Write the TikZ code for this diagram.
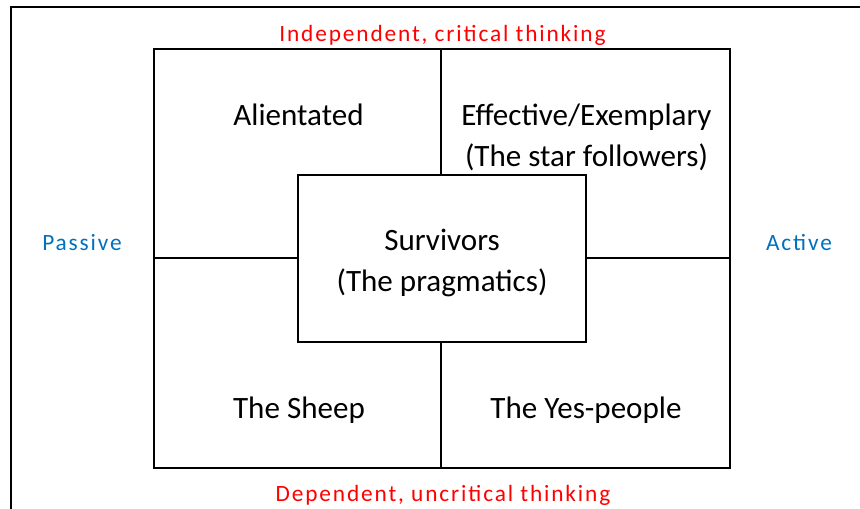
\documentclass[tikz,border=0pt]{standalone}
\usepackage{fontspec}
\setmainfont{Carlito}
\newfontfamily\spacedfont[LetterSpace=8]{Carlito}
\definecolor{axisred}{RGB}{255,0,0}
\definecolor{axisblue}{RGB}{0,112,192}
\tikzset{
  boxline/.style={draw=black, line width=1.6pt},
  celltext/.style={anchor=base, inner sep=0pt, font=\fontsize{23.3}{31}\selectfont, text=black},
  redlabel/.style={anchor=base, inner sep=0pt, font=\spacedfont\fontsize{17.5}{20}\selectfont, text=axisred},
  bluelabel/.style={anchor=base, inner sep=0pt, font=\spacedfont\fontsize{17.5}{20}\selectfont, text=axisblue},
}
\begin{document}
\begin{tikzpicture}[x=0.75pt, y=-0.75pt]
\useasboundingbox (0,0) rectangle (860,509);
% outer frame (cut off at right and bottom)
\draw[line width=1.6pt] (11,509) -- (11,7) -- (860,7);
% main grid
\coordinate (tl) at (154,49);
\coordinate (br) at (730,468);
\coordinate (tm) at (441,49);
\coordinate (bm) at (441,468);
\coordinate (lm) at (154,258);
\coordinate (rm) at (730,258);
\draw[boxline] (tl) rectangle (br);
\draw[boxline] (tm) -- (bm);
\draw[boxline] (lm) -- (rm);
% centre box
\node[boxline, fill=white, minimum width=288*0.75pt, minimum height=167*0.75pt, inner sep=0pt] (centre) at (442,258.5) {};
% cell texts
\node[celltext] (alien) at (298.5,125.5) {Alientated};
\node[celltext] (eff1) at (586.5,125.5) {Effective/Exemplary};
\node[celltext] (eff2) at (586.5,166.5) {(The star followers)};
\node[celltext] (surv1) at (442,250.5) {Survivors};
\node[celltext] (surv2) at (442,292) {(The pragmatics)};
\node[celltext] (sheep) at (299,418) {The Sheep};
\node[celltext] (yes) at (586,418) {The Yes-people};
% axis labels
\node[redlabel] (indep) at (442.5,41.5) {Independent, critical thinking};
\node[redlabel] (dep) at (443,501.5) {Dependent, uncritical thinking};
\node[bluelabel] (passive) at (82,250.5) {Passive};
\node[bluelabel] (active) at (799,250.5) {Active};
\end{tikzpicture}
\end{document}
